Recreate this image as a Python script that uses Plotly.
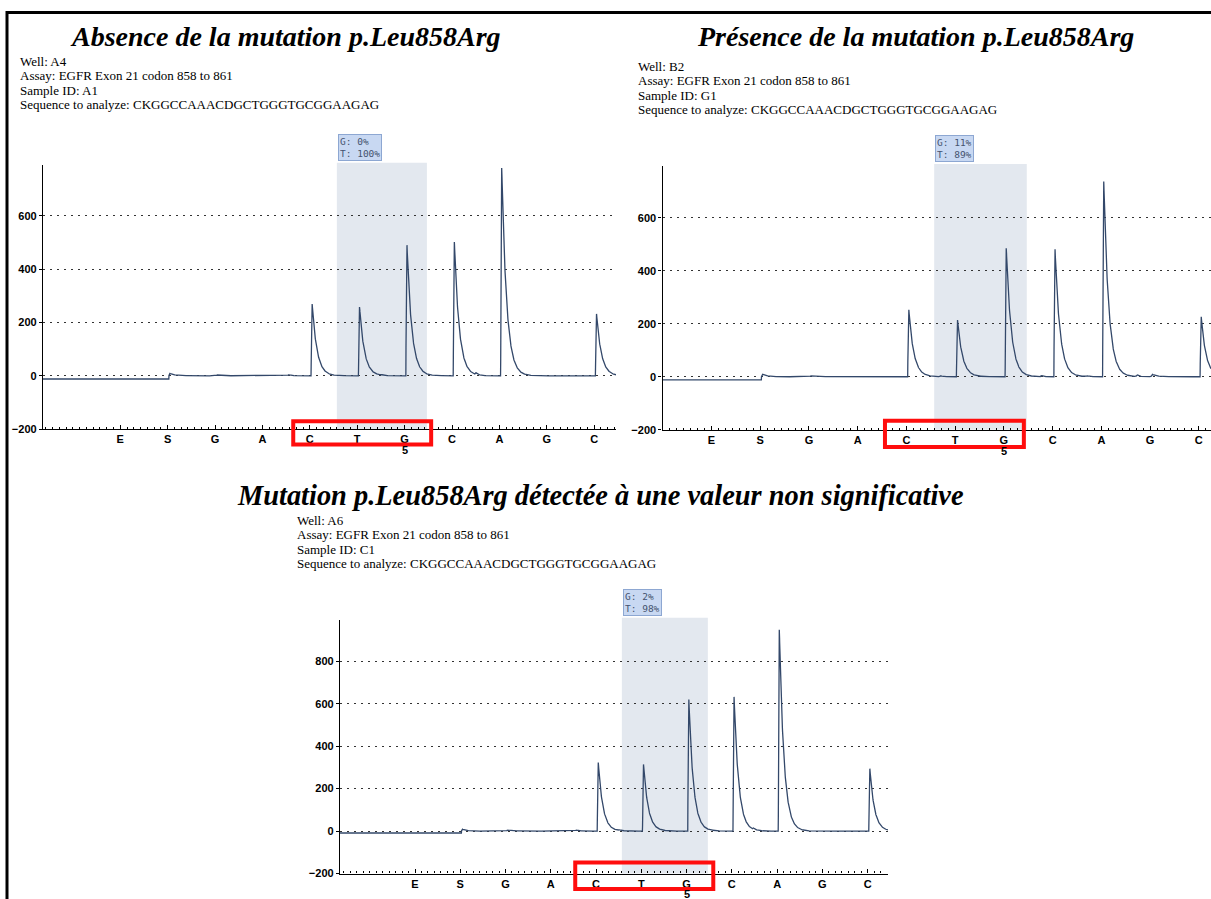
import numpy as np
import plotly.graph_objects as go

FIG_W, FIG_H = 1211, 899


def px(x):
    return x / FIG_W


def py(y):
    return 1 - y / FIG_H


# Dispensation order shared by the three pyrograms
dispensations = ["E", "S", "G", "A", "C", "T", "G", "C", "A", "G", "C"]
positions = list(range(1, len(dispensations) + 1))

# Peak heights (RLU) at each dispensation
peaks_a4 = [0, 9, 3, 0, 269, 258, 490, 502, 779, 0, 232]
peaks_b2 = [0, 9, 3, 0, 253, 214, 485, 481, 737, 9, 226]
peaks_a6 = [0, 9, 5, 0, 323, 314, 620, 632, 948, 0, 294]

# Small background bumps between dispensations: positions and heights
bump_pos_a4 = [4.55, 6.5, 8.5]
bump_h_a4 = [4, 2, 6]
bump_pos_b2 = [4.5, 5.7, 7.76, 8.7, 9.73]
bump_h_b2 = [2, 3, 4, 3, 6]
bump_pos_a6 = [4.56, 5.5, 7.5, 8.47]
bump_h_a6 = [5, 3, 3, 6]

# Signal level before the substrate dispensation
offset_before_s = [-12, -12, -9]

# Percentages reported for the analysed position
pct_g = [0, 11, 2]
pct_t = [100, 89, 98]

wells = ["A4", "B2", "A6"]
sample_ids = ["A1", "G1", "C1"]
assay = "EGFR Exon 21 codon 858 to 861"
sequence = "CKGGCCAAACDGCTGGGTGCGGAAGAG"
titles = [
    "Absence de la mutation p.Leu858Arg",
    "Présence de la mutation p.Leu858Arg",
    "Mutation p.Leu858Arg détectée à une valeur non significative",
]

# Per-panel layout: x domain (px), y domain (px), axis ranges, y ticks,
# title / info text placement and the red frame extent (in dispensation units)
panels = [
    dict(xd=(43, 616), yd=(432.0, 166.0), xr=(-0.63, 11.46), yr=(-200, 791),
         yt=[-200, 0, 200, 400, 600], title_xy=(285, 37), title_size=28,
         info_xy=(19, 53), frame_x=(4.65, 7.56), frame_y=(-0.058, 0.03)),
    dict(xd=(662.5, 1211), yd=(432.6, 167.3), xr=(-0.005, 11.25), yr=(-200, 795),
         yt=[-200, 0, 200, 400, 600], title_xy=(915, 37), title_size=28,
         info_xy=(637, 58), frame_x=(4.56, 7.41), frame_y=(-0.066, 0.034)),
    dict(xd=(340, 888), yd=(879.4, 624.0), xr=(-0.657, 11.45), yr=(-200, 995),
         yt=[-200, 0, 200, 400, 600, 800], title_xy=(600, 499), title_size=28.4,
         info_xy=(296, 515.5), frame_x=(4.54, 7.59), frame_y=(-0.061, 0.043)),
]

peak_sets = [peaks_a4, peaks_b2, peaks_a6]
bump_sets = [(bump_pos_a4, bump_h_a4), (bump_pos_b2, bump_h_b2), (bump_pos_a6, bump_h_a6)]

TRACE_COLOR = "#33486a"
PEAK_DELAY = 0.04   # peak onset after the dispensation tick
RISE = 0.014        # width of the rising edge
DECAY = 0.1         # exponential tail constant


def peak_profile(x, x0, h, decay=DECAY):
    t = x - x0
    y = np.zeros_like(x)
    rising = (t >= -RISE) & (t < 0)
    y[rising] = h * (t[rising] + RISE) / RISE
    falling = t >= 0
    y[falling] = h * np.exp(-np.maximum(t[falling] - 0.01, 0) / decay)
    return y


def pyrogram(xr, peaks, bumps, offset):
    x = np.arange(xr[0], xr[1] + 0.002, 0.003)
    s_onset = positions[dispensations.index("S")] + PEAK_DELAY - RISE
    y = np.where(x < s_onset, float(offset), 0.0)
    for pos, h in zip(positions, peaks):
        if h:
            y += peak_profile(x, pos + PEAK_DELAY, h)
    for pos, h in zip(*bumps):
        y += peak_profile(x, pos, h, decay=0.05)
    return x, y


AXIS_FONT = dict(family="Liberation Sans", size=11, color="black", weight="bold")

fig = go.Figure()
shapes = []
annotations = []

for k, p in enumerate(panels):
    sfx = "" if k == 0 else str(k + 1)
    xa, ya = "x" + sfx, "y" + sfx
    x, y = pyrogram(p["xr"], peak_sets[k], bump_sets[k], offset_before_s[k])
    fig.add_trace(go.Scatter(x=x, y=y, mode="lines", xaxis=xa, yaxis=ya,
                             line=dict(color=TRACE_COLOR, width=1.3),
                             hoverinfo="skip", showlegend=False))

    fig.update_layout(**{
        "xaxis" + sfx: dict(
            domain=[px(p["xd"][0]), px(p["xd"][1])], range=list(p["xr"]),
            anchor=ya, tickvals=positions, ticktext=dispensations,
            ticks="inside", ticklen=4, tickcolor="black", tickfont=AXIS_FONT,
            showline=True, linecolor="black", linewidth=1.3,
            showgrid=False, zeroline=False,
            minor=dict(dtick=1 / 7, tick0=0, ticks="inside", ticklen=2,
                       tickcolor="black", showgrid=False),
        ),
        "yaxis" + sfx: dict(
            domain=[py(p["yd"][0]), py(p["yd"][1])], range=list(p["yr"]),
            anchor=xa, tickvals=p["yt"], ticks="outside", ticklen=3,
            tickcolor="black", tickfont=AXIS_FONT,
            showline=True, linecolor="black", linewidth=1.3,
            showgrid=True, gridcolor="#333333", gridwidth=1, griddash="2px,5px",
            zeroline=False,
        ),
    })

    dom = ya + " domain"
    # highlighted variable position
    shapes.append(dict(type="rect", xref=xa, yref=dom, x0=5.57, x1=7.47,
                       y0=0, y1=1.008, fillcolor="#e3e8ef", line=dict(width=0),
                       layer="below"))
    # red frame around the C-T-G dispensations
    shapes.append(dict(type="rect", xref=xa, yref=dom,
                       x0=p["frame_x"][0], x1=p["frame_x"][1],
                       y0=p["frame_y"][0], y1=p["frame_y"][1],
                       fillcolor="rgba(0,0,0,0)",
                       line=dict(color="#ff0d0d", width=4), layer="above"))

    annotations.append(dict(
        xref=xa, yref=dom, x=5.585, y=1.016, xanchor="left", yanchor="bottom",
        text=f"G: {pct_g[k]}%<br>T: {pct_t[k]}%", align="left", showarrow=False,
        font=dict(family="DejaVu Sans Mono", size=9.5, color="#44536f"),
        bgcolor="#c8d8f2", bordercolor="#8da7d2", borderwidth=1, borderpad=1))
    annotations.append(dict(
        xref=xa, yref=dom, x=7, y=-0.05, xanchor="center", yanchor="top",
        text="5", showarrow=False, font=AXIS_FONT))

    tx, ty = p["title_xy"]
    annotations.append(dict(
        xref="paper", yref="paper", x=px(tx), y=py(ty), xanchor="center",
        yanchor="middle", text=titles[k], showarrow=False,
        font=dict(family="Liberation Serif", size=p["title_size"], color="black",
                  weight="bold", style="italic")))

    # run details: 13px glyphs on a ~14.4px line pitch
    info_lines = [f"Well: {wells[k]}", f"Assay: {assay}",
                  f"Sample ID: {sample_ids[k]}", f"Sequence to analyze: {sequence}"]
    info_text = "<br>".join(f"<span style='font-size:13px'>{s}</span>" for s in info_lines)
    ix, iy = p["info_xy"]
    annotations.append(dict(
        xref="paper", yref="paper", x=px(ix), y=py(iy),
        xanchor="left", yanchor="top", align="left", text=info_text,
        showarrow=False, borderpad=0,
        font=dict(family="Liberation Serif", size=11.1, color="black")))

# page frame
shapes.append(dict(type="rect", xref="paper", yref="paper", x0=px(7), x1=1.05,
                   y0=-0.05, y1=py(12.5), fillcolor="rgba(0,0,0,0)",
                   line=dict(color="black", width=3), layer="above"))

fig.update_layout(
    width=FIG_W, height=FIG_H, margin=dict(l=0, r=0, t=0, b=0),
    paper_bgcolor="white", plot_bgcolor="white", showlegend=False,
    shapes=shapes, annotations=annotations,
)

fig.write_html("out.html", config={"displayModeBar": False})
